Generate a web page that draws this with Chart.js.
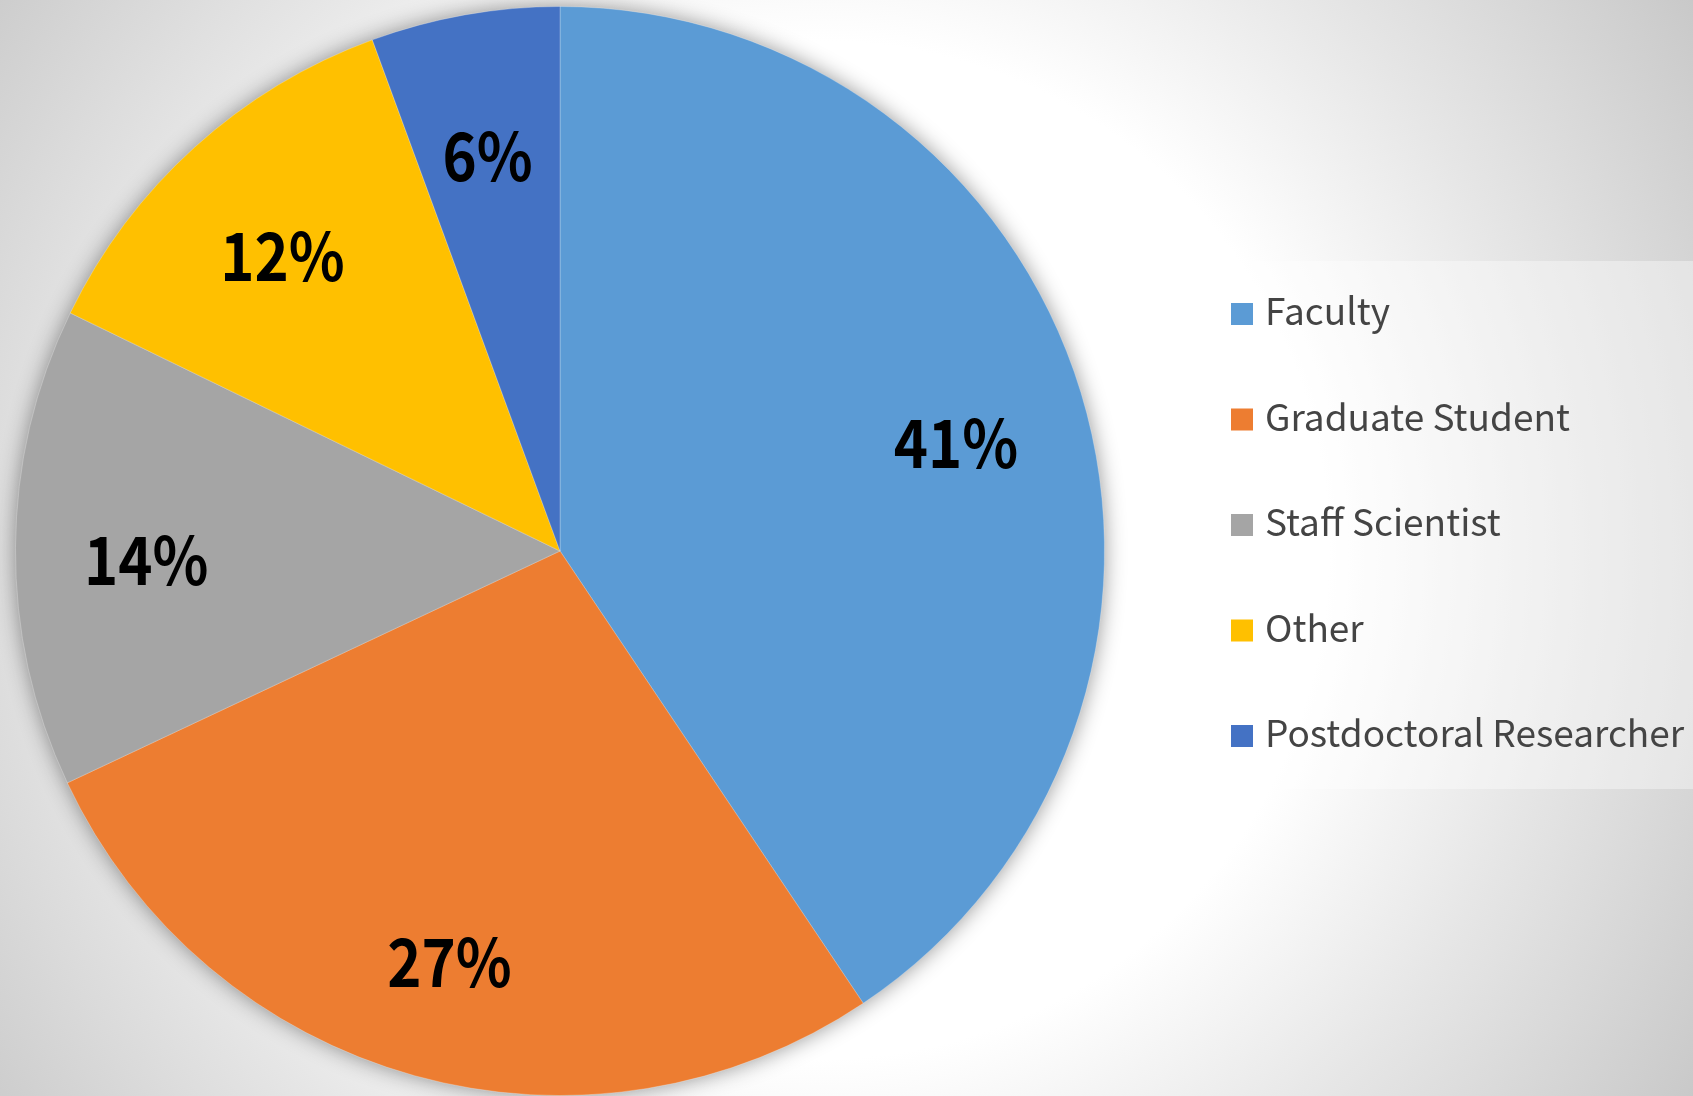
<!DOCTYPE html>
<html>
<head>
<meta charset="utf-8">
<script src="https://cdn.jsdelivr.net/npm/chart.js@4"></script>
<style>
  html, body { margin: 0; padding: 0; background: #e0e0e0; }
  #wrap { width: 1693px; height: 1096px; position: relative; }
</style>
</head>
<body>
<div id="wrap"><canvas id="c" width="1693" height="1096"></canvas></div>
<script>
const categories = ["Faculty", "Graduate Student", "Staff Scientist", "Other", "Postdoctoral Researcher"];
const shares = [40.6, 27.4, 14.2, 12.2, 5.6];
const sliceColors = ["#5B9BD5", "#ED7D31", "#A5A5A5", "#FFC000", "#4472C4"];

const bgPlugin = {
  id: 'bg',
  beforeDraw(chart) {
    const ctx = chart.ctx, w = chart.width, h = chart.height;
    ctx.save();
    const g = ctx.createRadialGradient(820, 550, 0, 820, 550, 1060);
    g.addColorStop(0, '#ffffff');
    g.addColorStop(0.48, '#ffffff');
    g.addColorStop(0.7, '#e6e6e6');
    g.addColorStop(1, '#c6c6c6');
    ctx.fillStyle = g;
    ctx.fillRect(0, 0, w, h);
    ctx.restore();
  }
};

const shadowPlugin = {
  id: 'pieShadow',
  beforeDatasetsDraw(chart) {
    const arc = chart.getDatasetMeta(0).data[0];
    if (!arc) return;
    const ctx = chart.ctx;
    ctx.save();
    ctx.shadowColor = 'rgba(0,0,0,0.45)';
    ctx.shadowBlur = 22;
    ctx.fillStyle = '#888';
    ctx.beginPath();
    ctx.arc(arc.x, arc.y, arc.outerRadius - 1, 0, Math.PI * 2);
    ctx.fill();
    ctx.restore();
  }
};

const labelPlugin = {
  id: 'pctLabels',
  afterDatasetsDraw(chart) {
    const ctx = chart.ctx;
    const meta = chart.getDatasetMeta(0);
    const total = shares.reduce((a, b) => a + b, 0);
    ctx.save();
    ctx.font = 'bold 66px "Noto Sans CJK JP", "Noto Sans", sans-serif';
    ctx.fillStyle = '#000000';
    ctx.textAlign = 'center';
    ctx.textBaseline = 'middle';
    meta.data.forEach((arc, i) => {
      const mid = (arc.startAngle + arc.endAngle) / 2;
      const r = arc.outerRadius * 0.76;
      const x = arc.x + Math.cos(mid) * r;
      const y = arc.y + Math.sin(mid) * r;
      const pct = Math.round(shares[i] / total * 100) + '%';
      ctx.save();
      ctx.translate(x, y + 12);
      ctx.scale(0.88, 1);
      ctx.fillText(pct, 0, 0);
      ctx.restore();
    });
    ctx.restore();
  }
};

const legendPlugin = {
  id: 'boxLegend',
  afterDraw(chart) {
    const ctx = chart.ctx;
    const area = chart.chartArea;
    const boxX = area.right + 86, boxY = 261, boxW = chart.width - boxX, boxH = 528;
    ctx.save();
    ctx.fillStyle = 'rgba(255,255,255,0.38)';
    ctx.fillRect(boxX, boxY, boxW, boxH);
    ctx.font = '37px "Noto Sans CJK JP", "Noto Sans", sans-serif';
    ctx.textBaseline = 'middle';
    ctx.textAlign = 'left';
    const rowH = 105.5;
    categories.forEach((name, i) => {
      const cy = boxY + 53 + i * rowH;
      ctx.fillStyle = sliceColors[i];
      ctx.fillRect(boxX + 40, cy - 11, 22, 22);
      ctx.fillStyle = '#444444';
      ctx.fillText(name, boxX + 74, cy - 3);
    });
    ctx.restore();
  }
};

new Chart(document.getElementById('c'), {
  type: 'pie',
  data: {
    labels: categories,
    datasets: [{
      data: shares,
      backgroundColor: sliceColors,
      borderWidth: 1,
      borderColor: 'rgba(255,255,255,0.25)'
    }]
  },
  options: {
    responsive: false,
    animation: false,
    events: [],
    layout: { padding: { left: 15, right: 588, top: 6, bottom: 0 } },
    plugins: {
      legend: { display: false },
      tooltip: { enabled: false },
      title: { display: false }
    }
  },
  plugins: [bgPlugin, shadowPlugin, labelPlugin, legendPlugin]
});
</script>
</body>
</html>
